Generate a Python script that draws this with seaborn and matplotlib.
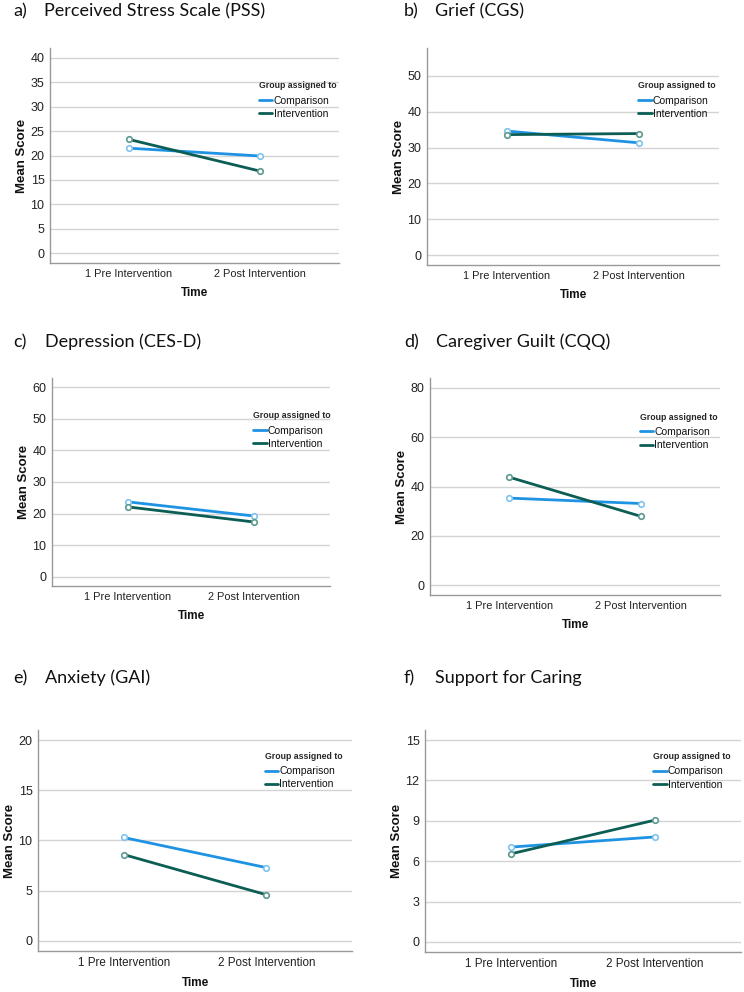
import numpy as np
import pandas as pd
import matplotlib
matplotlib.use("Agg")
import matplotlib.pyplot as plt
import seaborn as sns

time_labels = ["1 Pre Intervention", "2 Post Intervention"]
groups = ["Comparison", "Intervention"]

pss_comparison = [21.5, 19.9]
pss_intervention = [23.3, 16.8]
cgs_comparison = [34.6, 31.3]
cgs_intervention = [33.6, 33.9]
cesd_comparison = [23.7, 19.2]
cesd_intervention = [22.1, 17.3]
cqq_comparison = [35.3, 33.1]
cqq_intervention = [43.8, 27.9]
gai_comparison = [10.3, 7.3]
gai_intervention = [8.6, 4.6]
support_comparison = [7.05, 7.8]
support_intervention = [6.55, 9.05]

letters = ["a)", "b)", "c)", "d)", "e)", "f)"]
titles = ["Perceived Stress Scale (PSS)", "Grief (CGS)", "Depression (CES-D)",
          "Caregiver Guilt (CQQ)", "Anxiety (GAI)", "Support for Caring"]

palette = {"Comparison": "#1f93e3", "Intervention": "#0c5e55"}
marker_edge = {"Comparison": "#7fc3ee", "Intervention": "#5b9890"}

sns.set_theme(style="white")
plt.rcParams["font.family"] = ["Liberation Sans", "DejaVu Sans"]

W, H = 744, 992
fig = plt.figure(figsize=(W / 100, H / 100), dpi=100)

# panel boxes in pixels: left, right, top, bottom
boxes = [(50, 339, 48, 263), (427, 719, 48, 265),
         (52, 330, 378, 586), (430, 720, 378, 595),
         (38, 352, 730, 951), (425, 741, 730, 952)]
ylims = [(-2, 42), (-2.75, 57.75), (-3, 63), (-4, 84), (-1, 21), (-0.75, 15.75)]
yticks = [np.arange(0, 41, 5), np.arange(0, 51, 10), np.arange(0, 61, 10),
          np.arange(0, 81, 20), np.arange(0, 21, 5), np.arange(0, 16, 3)]
legend_y = [0.87, 0.87, 0.865, 0.865, 0.925, 0.925]
xtick_size = [7.9, 7.9, 7.9, 7.9, 8.4, 8.4]
title_pos = [(13, 44, 11), (404, 435, 11), (13, 45, 342),
             (404, 436, 342), (13, 45, 678), (404, 435, 678)]

series = [(pss_comparison, pss_intervention), (cgs_comparison, cgs_intervention),
          (cesd_comparison, cesd_intervention), (cqq_comparison, cqq_intervention),
          (gai_comparison, gai_intervention), (support_comparison, support_intervention)]

for i, (comp, interv) in enumerate(series):
    l, r, t, b = boxes[i]
    ax = fig.add_axes([l / W, 1 - b / H, (r - l) / W, (b - t) / H])
    df = pd.DataFrame({
        "Time": time_labels * 2,
        "Score": comp + interv,
        "Group": [groups[0]] * 2 + [groups[1]] * 2,
    })
    sns.lineplot(data=df, x="Time", y="Score", hue="Group", hue_order=groups,
                 palette=palette, marker="o", markersize=4, linewidth=2,
                 sort=False, ax=ax, zorder=3)
    for line, g in zip(ax.lines[:2], groups):
        line.set_markerfacecolor("white")
        line.set_markeredgecolor(marker_edge[g])
        line.set_markeredgewidth(1.2)

    ax.set_xlim(-0.6, 1.6)
    ax.set_ylim(*ylims[i])
    ax.set_yticks(yticks[i])
    ax.yaxis.grid(True, color="#d4d4d4", linewidth=1)
    ax.set_axisbelow(True)
    for s in ["top", "right"]:
        ax.spines[s].set_visible(False)
    for s in ["left", "bottom"]:
        ax.spines[s].set_color("#999999")
        ax.spines[s].set_linewidth(1)
    ax.tick_params(axis="both", length=0, colors="#222222", pad=4)
    ax.tick_params(axis="x", labelsize=xtick_size[i])
    ax.tick_params(axis="y", labelsize=9)
    ax.set_xlabel("Time", fontsize=8.5, fontweight="bold", color="#111111", labelpad=6)
    ax.set_ylabel("Mean Score", fontsize=9.5, fontweight="bold", color="#111111", labelpad=2)

    leg = ax.legend(title="Group assigned to", frameon=False, loc="upper left",
                    bbox_to_anchor=(0.705, legend_y[i]), fontsize=7.5,
                    title_fontsize=6.3, handlelength=1.3, handletextpad=0.1,
                    labelspacing=0.3, borderpad=0, alignment="left")
    leg._legend_box.sep = 4
    leg.get_title().set_fontweight("bold")
    for txt in leg.get_texts():
        txt.set_color("#111111")
    for h in leg.get_lines():
        h.set_linewidth(2)
        h.set_marker("")

    lx, tx, ty = title_pos[i]
    fig.text(lx / W, 1 - ty / H, letters[i], fontsize=13, va="center", ha="left",
             family=["Lato", "DejaVu Sans"], color="#111111")
    fig.text(tx / W, 1 - ty / H, titles[i], fontsize=13, va="center", ha="left",
             family=["Lato", "DejaVu Sans"], color="#111111")

fig.savefig("out.png", dpi=100)
